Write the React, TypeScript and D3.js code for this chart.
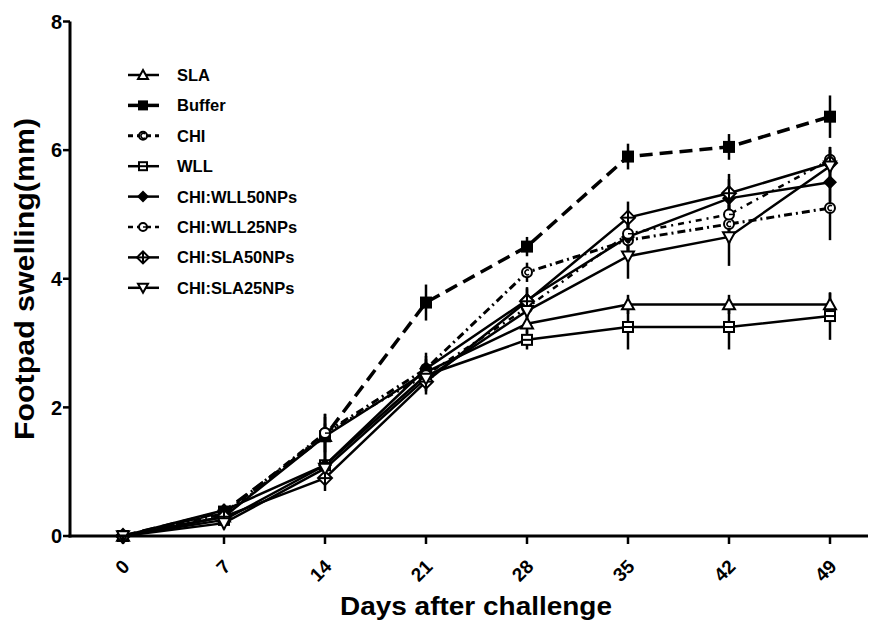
import React from 'react';
import * as d3 from 'd3';

// days after challenge
const days = [0, 7, 14, 21, 28, 35, 42, 49];
const yTicks = [0, 2, 4, 6, 8];

const seriesNames = ['SLA', 'Buffer', 'CHI', 'WLL', 'CHI:WLL50NPs', 'CHI:WLL25NPs', 'CHI:SLA50NPs', 'CHI:SLA25NPs'];

// mean footpad swelling (mm) per group
const slaVals = [0, 0.3, 1.55, 2.55, 3.3, 3.6, 3.6, 3.6];
const bufferVals = [0, 0.38, 1.55, 3.63, 4.5, 5.9, 6.05, 6.52];
const chiVals = [0, 0.35, 1.6, 2.6, 4.1, 4.6, 4.85, 5.1];
const wllVals = [0, 0.25, 1.1, 2.5, 3.05, 3.25, 3.25, 3.42];
const wll50Vals = [0, 0.4, 1.1, 2.6, 3.67, 4.65, 5.25, 5.5];
const wll25Vals = [0, 0.3, 1.6, 2.5, 3.55, 4.7, 5.0, 5.85];
const sla50Vals = [0, 0.3, 0.9, 2.4, 3.65, 4.95, 5.33, 5.8];
const sla25Vals = [0, 0.2, 1.05, 2.45, 3.5, 4.35, 4.65, 5.75];

// error bars (SEM)
const slaErr = [0.05, 0.1, 0.2, 0.2, 0.15, 0.15, 0.15, 0.18];
const bufferErr = [0.05, 0.1, 0.3, 0.28, 0.15, 0.2, 0.2, 0.33];
const chiErr = [0.05, 0.1, 0.3, 0.2, 0.15, 0.3, 0.3, 0.5];
const wllErr = [0.05, 0.1, 0.2, 0.2, 0.15, 0.35, 0.35, 0.37];
const wll50Err = [0.05, 0.1, 0.25, 0.25, 0.2, 0.3, 0.3, 0.3];
const wll25Err = [0.05, 0.1, 0.3, 0.2, 0.15, 0.3, 0.3, 0.2];
const sla50Err = [0.05, 0.1, 0.2, 0.2, 0.2, 0.25, 0.3, 0.2];
const sla25Err = [0.05, 0.1, 0.2, 0.2, 0.2, 0.35, 0.45, 0.3];

const FONT = '"Liberation Sans", Arial, sans-serif';

type Style = { dash: string; legendDash: string; width: number; marker: string };
const styles: Style[] = [
  { dash: '', legendDash: '', width: 2.5, marker: 'triUp' },
  { dash: '13,7', legendDash: '', width: 3.5, marker: 'squareFill' },
  { dash: '8,4,2,4', legendDash: '5,4', width: 3, marker: 'circleDot' },
  { dash: '', legendDash: '', width: 2.5, marker: 'squareOpen' },
  { dash: '', legendDash: '', width: 2.5, marker: 'diamondFill' },
  { dash: '6,5,2,5', legendDash: '5,4', width: 2.5, marker: 'circleOpen' },
  { dash: '', legendDash: '', width: 2.5, marker: 'diamondCross' },
  { dash: '', legendDash: '', width: 2.5, marker: 'triDown' },
];

const Marker = ({ kind, x, y, s }: { kind: string; x: number; y: number; s: number }) => {
  const h = s / 2;
  const common = { stroke: '#000', strokeWidth: 2 };
  switch (kind) {
    case 'triUp':
      return <path d={`M${x},${y - h}L${x + h},${y + h * 0.8}L${x - h},${y + h * 0.8}Z`} fill="#fff" {...common} />;
    case 'triDown':
      return <path d={`M${x},${y + h}L${x + h},${y - h * 0.8}L${x - h},${y - h * 0.8}Z`} fill="#fff" {...common} />;
    case 'squareFill':
      return <rect x={x - h} y={y - h} width={s} height={s} fill="#000" />;
    case 'squareOpen':
      return (
        <g>
          <rect x={x - h + 1} y={y - h + 1} width={s - 2} height={s - 2} fill="#fff" {...common} />
          <line x1={x - h + 2} x2={x + h - 2} y1={y} y2={y} {...common} />
        </g>
      );
    case 'circleDot':
      return (
        <g>
          <circle cx={x} cy={y} r={h - 1} fill="#fff" {...common} />
          <path d={`M${x + 2},${y - 2}A2.5,2.5 0 1 0 ${x + 2},${y + 2}`} fill="none" stroke="#000" strokeWidth={1.5} />
        </g>
      );
    case 'circleOpen':
      return (
        <g>
          <circle cx={x} cy={y} r={h - 1} fill="#fff" {...common} />
          <line x1={x} x2={x + h - 1} y1={y} y2={y} stroke="#000" strokeWidth={1.5} />
        </g>
      );
    case 'diamondFill':
      return <path d={`M${x},${y - h - 1}L${x + h + 1},${y}L${x},${y + h + 1}L${x - h - 1},${y}Z`} fill="#000" />;
    case 'diamondCross':
      return (
        <g>
          <path d={`M${x},${y - h - 1}L${x + h + 1},${y}L${x},${y + h + 1}L${x - h - 1},${y}Z`} fill="#fff" {...common} />
          <line x1={x} x2={x} y1={y - h} y2={y + h} {...common} />
          <line x1={x - h} x2={x + h} y1={y} y2={y} {...common} />
        </g>
      );
    default:
      return null;
  }
};

export default function App() {
  const W = 870;
  const H = 622;
  const x = d3.scaleLinear().domain([0, 49]).range([123, 830]);
  const y = d3.scaleLinear().domain([0, 8]).range([536, 21.5]);
  const axisX0 = 70;
  const axisX1 = 868;

  const allVals = [slaVals, bufferVals, chiVals, wllVals, wll50Vals, wll25Vals, sla50Vals, sla25Vals];
  const allErr = [slaErr, bufferErr, chiErr, wllErr, wll50Err, wll25Err, sla50Err, sla25Err];
  const series = seriesNames.map((name, i) => ({
    name,
    style: styles[i],
    points: days.map((d, j) => ({ day: d, v: allVals[i][j], e: allErr[i][j] })),
  }));

  const line = d3
    .line<{ day: number; v: number }>()
    .x((d) => x(d.day))
    .y((d) => y(d.v));

  const legendX = 128;
  const legendY0 = 75;
  const legendStep = 30.4;

  return (
    <svg
      width={W}
      height={H}
      style={{ position: 'absolute', left: 0, top: 0, background: '#fff', fontFamily: FONT }}
    >
      <rect width={W} height={H} fill="#fff" />

      {/* error bars */}
      {series.map((s) =>
        s.points.map((p, j) => (
          <line
            key={`e-${s.name}-${j}`}
            x1={x(p.day)}
            x2={x(p.day)}
            y1={y(p.v - p.e)}
            y2={y(p.v + p.e)}
            stroke="#000"
            strokeWidth={2.5}
          />
        ))
      )}

      {/* lines */}
      {series.map((s) => (
        <path
          key={`l-${s.name}`}
          d={line(s.points) || ''}
          fill="none"
          stroke="#000"
          strokeWidth={s.style.width}
          strokeDasharray={s.style.dash || undefined}
        />
      ))}

      {/* markers */}
      {series.map((s) =>
        s.points.map((p, j) => (
          <Marker key={`m-${s.name}-${j}`} kind={s.style.marker} x={x(p.day)} y={y(p.v)} s={12} />
        ))
      )}

      {/* y axis */}
      <line x1={axisX0} x2={axisX0} y1={y(8)} y2={y(0) + 1.5} stroke="#000" strokeWidth={3} />
      {yTicks.map((t) => (
        <g key={`yt-${t}`}>
          <line x1={axisX0 - 7} x2={axisX0} y1={y(t)} y2={y(t)} stroke="#000" strokeWidth={2.5} />
          <text
            x={axisX0 - 8}
            y={y(t)}
            dy="0.36em"
            textAnchor="end"
            fontSize={20}
            fontWeight="bold"
          >
            {t}
          </text>
        </g>
      ))}

      {/* x axis */}
      <line x1={axisX0 - 1.5} x2={axisX1} y1={y(0)} y2={y(0)} stroke="#000" strokeWidth={3} />
      {days.map((d) => (
        <g key={`xt-${d}`}>
          <line x1={x(d)} x2={x(d)} y1={y(0)} y2={y(0) + 8} stroke="#000" strokeWidth={2.5} />
          <text
            transform={`translate(${x(d) + 3},${y(0) + 27}) rotate(-45)`}
            textAnchor="end"
            dy="0.35em"
            fontSize={19}
            fontWeight="bold"
          >
            {d}
          </text>
        </g>
      ))}

      {/* axis titles */}
      <text
        transform={`translate(34,279) rotate(-90)`}
        textAnchor="middle"
        fontSize={27}
        fontWeight="bold"
        textLength={322}
        lengthAdjust="spacingAndGlyphs"
      >
        Footpad swelling(mm)
      </text>
      <text
        x={476}
        y={615}
        textAnchor="middle"
        fontSize={25}
        fontWeight="bold"
        textLength={272}
        lengthAdjust="spacingAndGlyphs"
      >
        Days after challenge
      </text>

      {/* legend */}
      {series.map((s, i) => {
        const ly = legendY0 + i * legendStep;
        return (
          <g key={`lg-${s.name}`}>
            <line
              x1={legendX}
              x2={legendX + 31}
              y1={ly}
              y2={ly}
              stroke="#000"
              strokeWidth={s.style.width}
              strokeDasharray={s.style.legendDash || undefined}
            />
            <Marker kind={s.style.marker} x={legendX + 15} y={ly} s={10} />
            <text x={legendX + 49} y={ly} dy="0.36em" fontSize={16.5} fontWeight="bold">
              {s.name}
            </text>
          </g>
        );
      })}
    </svg>
  );
}
